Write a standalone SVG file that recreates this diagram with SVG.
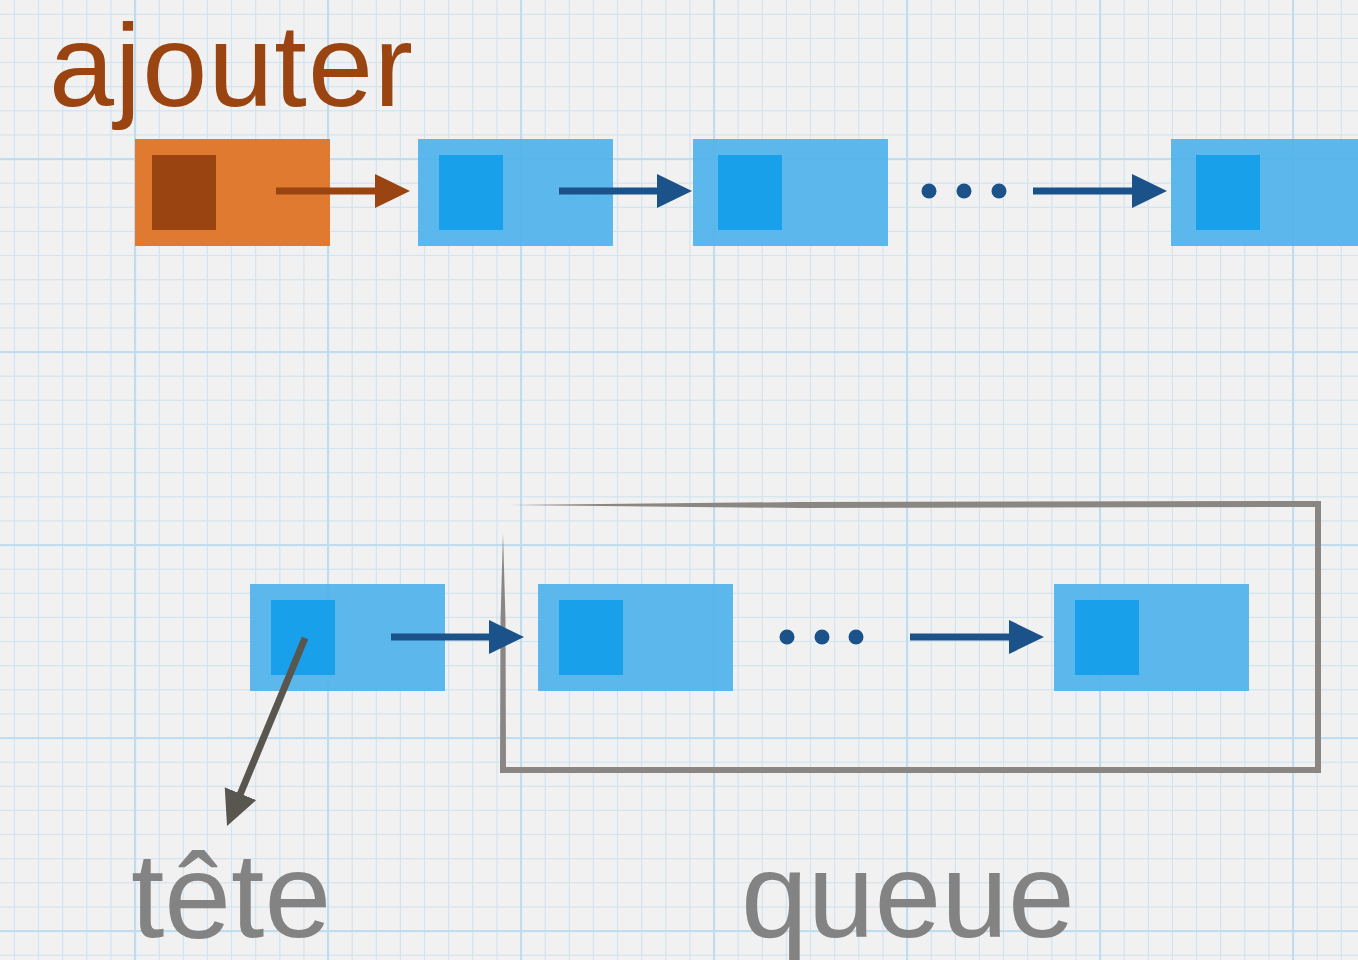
<svg xmlns="http://www.w3.org/2000/svg" width="1358" height="960" viewBox="0 0 1358 960">
<defs>
<pattern id="grid" patternUnits="userSpaceOnUse" x="135" y="159" width="193" height="193">
<g fill="#d1e4ef">
<rect x="23.6" y="0" width="1.2" height="193"/><rect x="47.7" y="0" width="1.2" height="193"/><rect x="71.8" y="0" width="1.2" height="193"/><rect x="95.9" y="0" width="1.2" height="193"/><rect x="120.1" y="0" width="1.2" height="193"/><rect x="144.2" y="0" width="1.2" height="193"/><rect x="168.3" y="0" width="1.2" height="193"/>
<rect y="23.6" x="0" height="1.2" width="193"/><rect y="47.7" x="0" height="1.2" width="193"/><rect y="71.8" x="0" height="1.2" width="193"/><rect y="95.9" x="0" height="1.2" width="193"/><rect y="120.1" x="0" height="1.2" width="193"/><rect y="144.2" x="0" height="1.2" width="193"/><rect y="168.3" x="0" height="1.2" width="193"/>
</g>
<g fill="#c0ddf0">
<rect x="-1" y="0" width="2.2" height="193"/><rect x="192" y="0" width="2.2" height="193"/>
<rect y="-1" x="0" height="2.2" width="193"/><rect y="192" x="0" height="2.2" width="193"/>
</g>
</pattern>
<marker id="hb" markerUnits="userSpaceOnUse" markerWidth="36" markerHeight="36" refX="15" refY="17" orient="auto"><path d="M0,0 L35,17 L0,34 z" fill="#1b5289"/></marker>
<marker id="ho" markerUnits="userSpaceOnUse" markerWidth="36" markerHeight="36" refX="15" refY="17" orient="auto"><path d="M0,0 L35,17 L0,34 z" fill="#9a4511"/></marker>
<marker id="hg" markerUnits="userSpaceOnUse" markerWidth="36" markerHeight="36" refX="15" refY="17" orient="auto"><path d="M0,0 L35,17 L0,34 z" fill="#59554f"/></marker>
</defs>
<style>
.outer{fill:#4fb2ec;fill-opacity:0.92}
.inner{fill:#19a0ea}
.label{font-family:"Liberation Sans",Arial,sans-serif;font-size:120px}
.ab{stroke:#1b5289;stroke-width:7;fill:none;marker-end:url(#hb)}
.dot{fill:#1b5289}
</style>
<rect width="1358" height="960" fill="#f2f1f1"/>
<rect width="1358" height="960" fill="url(#grid)"/>

<text id="t-ajouter" class="label" x="49" y="106" fill="#9a4511" style="font-size:117px" textLength="364" lengthAdjust="spacing">ajouter</text>

<g id="node-new">
<rect x="135" y="139" width="195" height="107" fill="#e07a30"/>
<rect x="152" y="155" width="64" height="75" fill="#9a4511"/>
</g>
<g id="node-1">
<rect class="outer" x="418" y="139" width="195" height="107"/>
<rect class="inner" x="439" y="155" width="64" height="75"/>
</g>
<g id="node-2">
<rect class="outer" x="693" y="139" width="195" height="107"/>
<rect class="inner" x="718" y="155" width="64" height="75"/>
</g>
<g id="node-3">
<rect class="outer" x="1171" y="139" width="195" height="107"/>
<rect class="inner" x="1196" y="155" width="64" height="75"/>
</g>
<g id="dots-top">
<circle class="dot" cx="929" cy="191" r="7.5"/><circle class="dot" cx="964" cy="191" r="7.5"/><circle class="dot" cx="999" cy="191" r="7.5"/>
</g>

<g id="queue-box" fill="#8a8683">
<polygon points="509,505 800,502 1321,501 1321,507 800,508"/>
<rect x="1315" y="501" width="6" height="272"/>
<rect x="500" y="767" width="821" height="6"/>
<polygon points="500,773 506,773 505.5,620 503,533 500.5,620"/>
</g>

<g id="node-head">
<rect class="outer" x="250" y="584" width="195" height="107"/>
<rect class="inner" x="271" y="600" width="64" height="75"/>
</g>
<g id="node-b">
<rect class="outer" x="538" y="584" width="195" height="107"/>
<rect class="inner" x="559" y="600" width="64" height="75"/>
</g>
<g id="node-c">
<rect class="outer" x="1054" y="584" width="195" height="107"/>
<rect class="inner" x="1075" y="600" width="64" height="75"/>
</g>
<g id="dots-bottom">
<circle class="dot" cx="787" cy="637" r="7.5"/><circle class="dot" cx="822" cy="637" r="7.5"/><circle class="dot" cx="856" cy="637" r="7.5"/>
</g>

<g id="connectors">
<line x1="276" y1="191" x2="390" y2="191" stroke="#9a4511" stroke-width="7" marker-end="url(#ho)"/>
<line class="ab" x1="559" y1="191" x2="672" y2="191"/>
<line class="ab" x1="1033" y1="191" x2="1147" y2="191"/>
<line class="ab" x1="391" y1="637" x2="504" y2="637"/>
<line class="ab" x1="910" y1="637" x2="1024" y2="637"/>
<line x1="305" y1="638" x2="234.7" y2="807.5" stroke="#59554f" stroke-width="7" marker-end="url(#hg)"/>
</g>

<text id="t-tete" class="label" x="131" y="937" fill="#838383">tête</text>
<text id="t-queue" class="label" x="741" y="937" fill="#838383">queue</text>
</svg>
